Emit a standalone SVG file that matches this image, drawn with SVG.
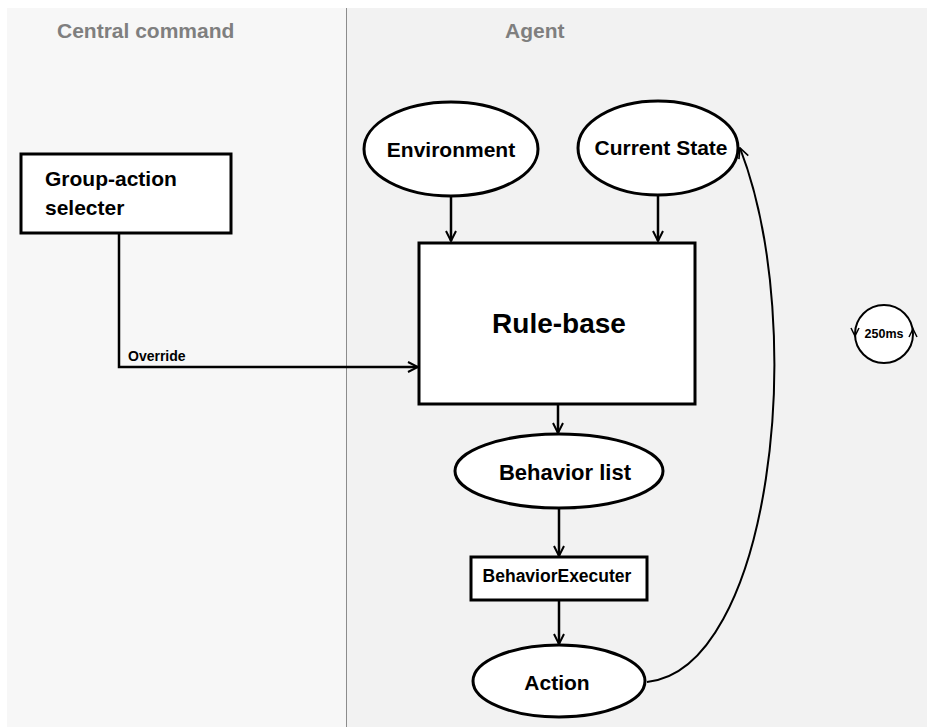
<svg xmlns="http://www.w3.org/2000/svg" width="927" height="727" viewBox="0 0 927 727">
<defs>
<style>
.node{fill:#ffffff;stroke:#000000;stroke-width:3}
.lbl{font-family:"Liberation Sans",Arial,sans-serif;font-weight:bold;fill:#000000}
.hdr{font-family:"Liberation Sans",Arial,sans-serif;font-weight:bold;fill:#7f7f7f;font-size:21px}
.edge{fill:none;stroke:#000000;stroke-width:2.5}
</style>
<marker id="arr" viewBox="0 0 12 12" refX="11" refY="6" markerWidth="12" markerHeight="12" markerUnits="userSpaceOnUse" orient="auto">
<path d="M1,1 L11,6 L1,11" fill="none" stroke="#000" stroke-width="2"/>
</marker>
<marker id="arrThin" viewBox="0 0 12 12" refX="11" refY="6" markerWidth="12" markerHeight="12" markerUnits="userSpaceOnUse" orient="auto">
<path d="M1,1 L11,6 L1,11" fill="none" stroke="#000" stroke-width="1.6"/>
</marker>
</defs>
<rect x="0" y="0" width="927" height="727" fill="#ffffff"/>
<rect x="7" y="8" width="339" height="719" fill="#f7f7f7"/>
<rect x="346" y="8" width="581" height="719" fill="#f2f2f2"/>
<line x1="346.5" y1="8" x2="346.5" y2="727" stroke="#8c8c8c" stroke-width="1"/>
<text class="hdr" x="57" y="38">Central command</text>
<text class="hdr" x="505" y="38">Agent</text>

<g id="connectors">
<path class="edge" d="M119,233 L119,367 L418,367" marker-end="url(#arr)"/>
<text class="lbl" x="128" y="361" font-size="14">Override</text>
<path class="edge" d="M451,196 L451,241" marker-end="url(#arr)"/>
<path class="edge" d="M658,195 L658,241" marker-end="url(#arr)"/>
<path class="edge" d="M558,404 L558,433" marker-end="url(#arr)"/>
<path class="edge" d="M559,509 L559,556" marker-end="url(#arr)"/>
<path class="edge" d="M559,600 L559,644" marker-end="url(#arr)"/>
<path d="M647,682 C770,670 810,330 740,148" fill="none" stroke="#000" stroke-width="2" marker-end="url(#arrThin)"/>
</g>

<g id="group-action-selecter">
<rect class="node" x="21" y="154" width="210" height="79"/>
<text class="lbl" x="45" y="186" font-size="21">Group-action</text>
<text class="lbl" x="45" y="215" font-size="21">selecter</text>
</g>

<g id="environment">
<ellipse class="node" cx="451" cy="149" rx="87" ry="47"/>
<text class="lbl" x="451" y="157" font-size="21" text-anchor="middle">Environment</text>
</g>

<g id="current-state">
<ellipse class="node" cx="658" cy="148" rx="80" ry="47"/>
<text class="lbl" x="661" y="155" font-size="21" text-anchor="middle">Current State</text>
</g>

<g id="rule-base">
<rect class="node" x="419" y="243" width="276" height="161"/>
<text class="lbl" x="559" y="333" font-size="28" text-anchor="middle">Rule-base</text>
</g>

<g id="behavior-list">
<ellipse class="node" cx="559" cy="471" rx="104" ry="37"/>
<text class="lbl" x="565" y="480" font-size="22" text-anchor="middle">Behavior list</text>
</g>

<g id="behavior-executer">
<rect class="node" x="471" y="557" width="176" height="43"/>
<text class="lbl" x="557" y="582" font-size="17.5" text-anchor="middle">BehaviorExecuter</text>
</g>

<g id="action">
<ellipse class="node" cx="559" cy="681" rx="86" ry="36"/>
<text class="lbl" x="557" y="690" font-size="21" text-anchor="middle">Action</text>
</g>

<g id="timer">
<circle cx="884" cy="334" r="29" fill="#ffffff" stroke="#000" stroke-width="2"/>
<path d="M851,328 L855,336 L859,328" fill="none" stroke="#000" stroke-width="1.5"/>
<path d="M909,337 L913,329 L917,337" fill="none" stroke="#000" stroke-width="1.5"/>
<text class="lbl" x="884" y="338" font-size="12.5" text-anchor="middle">250ms</text>
</g>
</svg>
